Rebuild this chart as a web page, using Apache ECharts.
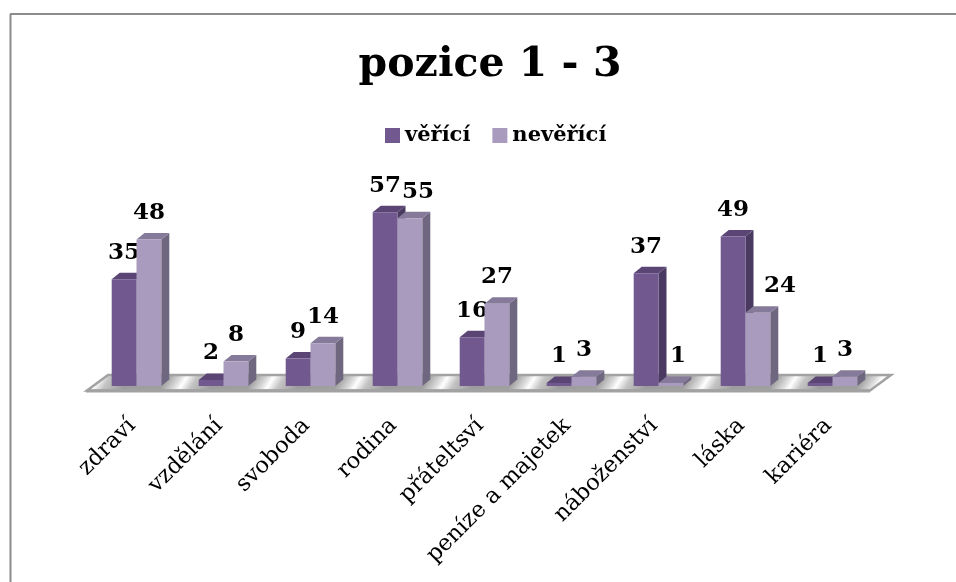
<!DOCTYPE html>
<html><head><meta charset="utf-8">
<style>html,body{margin:0;padding:0;background:#fff}#c{width:956px;height:582px}</style>
<script src="https://cdn.jsdelivr.net/npm/echarts@6/dist/echarts.min.js"></script>
</head><body><div id="c"></div>
<script>
const categories = ['zdraví','vzdělání','svoboda','rodina','přáteltsví','peníze a majetek','náboženství','láska','kariéra'];
const veriValues = [35,2,9,57,16,1,37,49,1];
const neveriValues = [48,8,14,55,27,3,1,24,3];
const titleText = 'pozice 1 - 3';
const seriesNames = ['věřící','nevěřící'];

const FONT = '"DejaVu Serif", "Liberation Serif", serif';
const DEPTH_X = 8, DEPTH_Y = 6.5, BAR_RATIO = 0.285;
const palette = [
  {front:'#71588f', top:'#5a4575', side:'#4a3a61'},
  {front:'#a99bbd', top:'#857a99', side:'#6f667f'}
];
// manual label shifts from the bar centre, keyed by series then category index
const labelShift = [{}, {3:8, 6:7, 7:22}];

function barRenderer(seriesIndex){
  return function(params, api){
    const i = api.value(0), v = api.value(1);
    const base = api.coord([i, 0]), topPt = api.coord([i, v]);
    const w = api.size([1, 0])[0] * BAR_RATIO;
    const x0 = base[0] + (seriesIndex === 0 ? -w : 0), x1 = x0 + w;
    const y0 = base[1], y1 = topPt[1];
    const c = palette[seriesIndex];
    const poly = (pts, fill) => ({type:'polygon', shape:{points:pts}, style:{fill}});
    const dx = labelShift[seriesIndex][i] || 0;
    return {type:'group', children:[
      poly([[x1,y0],[x1+DEPTH_X,y0-DEPTH_Y],[x1+DEPTH_X,y1-DEPTH_Y],[x1,y1]], c.side),
      poly([[x0,y1],[x0+DEPTH_X,y1-DEPTH_Y],[x1+DEPTH_X,y1-DEPTH_Y],[x1,y1]], c.top),
      poly([[x0,y0],[x1,y0],[x1,y1],[x0,y1]], c.front),
      {type:'text', z2:50, style:{text:String(v), x:(x0+x1)/2+dx, y:y1-26.5, align:'center', verticalAlign:'middle',
        fill:'#000', font:'bold 23px '+FONT}}
    ]};
  };
}

// floor stripes
const stops = [], periods = 12;
for (let k = 0; k < periods; k++) {
  const s = k/periods, u = 1/periods;
  stops.push({offset:s, color:'#ffffff'},{offset:s+u*0.12,color:'#c4c4c4'},{offset:s+u*0.35,color:'#9c9c9c'},{offset:s+u*0.78,color:'#a0a0a0'},{offset:s+u*0.93,color:'#dcdcdc'});
}
const floorFill = {type:'linear', global:true, x:183-3*62.6, y:383-3*39.1, x2:183-3*62.6+periods*62.6, y2:383-3*39.1+periods*39.1, colorStops:stops};

const chart = echarts.init(document.getElementById('c'), null, {renderer:'canvas'});
chart.setOption({
  animation:false,
  backgroundColor:'#fff',
  title:{text:titleText, left:485, textAlign:'center', top:40,
    textStyle:{fontFamily:FONT, fontWeight:'bold', fontSize:41, color:'#000'}},
  legend:{data:seriesNames, left:380, top:120, itemWidth:15, itemHeight:15, itemGap:22, icon:'rect',
    textStyle:{fontFamily:FONT, fontWeight:'bold', fontSize:21, color:'#000'}},
  grid:{left:93, width:783, top:203, height:183},
  xAxis:{type:'category', data:categories, axisLine:{show:false}, axisTick:{show:false},
    axisLabel:{interval:0, rotate:45, margin:32, padding:[0,6,0,0], fontFamily:FONT, fontSize:22.5, color:'#000'}},
  yAxis:{type:'value', min:0, max:60, interval:10, show:false, splitLine:{show:false}},
  graphic:{elements:[
    {type:'line', z:0, shape:{x1:10.5,y1:582,x2:10.5,y2:14}, style:{stroke:'#8c8c8c',lineWidth:2}},
    {type:'line', z:0, shape:{x1:10,y1:14,x2:956,y2:14}, style:{stroke:'#8c8c8c',lineWidth:2}},
    {type:'polygon', z:0, shape:{points:[[87,390.5],[108,375],[891,375],[870,390.5]]},
      style:{fill:floorFill, stroke:'#a2a2a2', lineWidth:2.5}},
    {type:'line', z:0, shape:{x1:86,y1:391,x2:870,y2:391}, style:{stroke:'#a2a2a2',lineWidth:3}}
  ]},
  series:[
    {name:seriesNames[0], type:'custom', renderItem:barRenderer(0), itemStyle:{color:palette[0].front},
     encode:{x:0,y:1}, data:veriValues.map((v,i)=>[i,v]), z:3},
    {name:seriesNames[1], type:'custom', renderItem:barRenderer(1), itemStyle:{color:palette[1].front},
     encode:{x:0,y:1}, data:neveriValues.map((v,i)=>[i,v]), z:4}
  ]
});
</script></body></html>
